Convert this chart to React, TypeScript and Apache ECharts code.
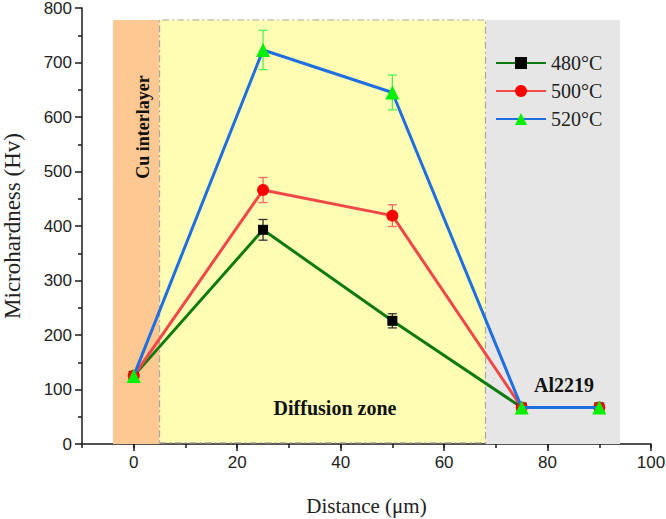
import React, { useEffect, useRef } from "react";
import * as echarts from "echarts";

const distances = [0, 25, 50, 75, 90];
const hv480 = [125, 393, 226, 67, 67];
const hv500 = [125, 466, 419, 67, 67];
const hv520 = [125, 723, 645, 67, 67];
const err480 = [0, 19, 13, 0, 0];
const err500 = [0, 23, 20, 0, 0];
const err520 = [0, 36, 32, 0, 0];
const xMajorTicks = [0, 20, 40, 60, 80, 100];

// background zones: [x start, x end, y top]
const cuZone = [-4, 5, 778];
const diffZone = [5, 68, 778];
const alZone = [68, 94, 778];

const serif = "'Liberation Serif', 'Times New Roman', serif";
const sans = "'Liberation Sans', Arial, sans-serif";

function pairs(xs: number[], ys: number[]) {
  return xs.map((x, i) => [x, ys[i]]);
}
function errData(xs: number[], ys: number[], es: number[]) {
  return xs.map((x, i) => [x, ys[i], es[i]]).filter((d) => d[2] > 0);
}

function errSeries(name: string, data: number[][], color: string, extra: any = {}) {
  return {
    type: "custom",
    name: name + "-err",
    z: 1,
    silent: true,
    data,
    renderItem: (params: any, api: any) => {
      const x = api.value(0);
      const y = api.value(1);
      const e = api.value(2);
      const top = api.coord([x, y + e]);
      const bot = api.coord([x, y - e]);
      const hw = 4.5;
      const st = { stroke: color, lineWidth: 1.3 };
      return {
        type: "group",
        children: [
          { type: "line", shape: { x1: top[0], y1: top[1], x2: bot[0], y2: bot[1] }, style: st },
          { type: "line", shape: { x1: top[0] - hw, y1: top[1], x2: top[0] + hw, y2: top[1] }, style: st },
          { type: "line", shape: { x1: bot[0] - hw, y1: bot[1], x2: bot[0] + hw, y2: bot[1] }, style: st },
        ],
      };
    },
    ...extra,
  };
}

export default function App() {
  const ref = useRef<HTMLDivElement>(null);
  useEffect(() => {
    if (!ref.current) return;
    const chart = echarts.init(ref.current, null, { renderer: "svg" });
    const axisLineStyle = { color: "#1a1a1a", width: 1.5 };
    const gridBox = { left: 82, right: 15, top: 8, bottom: 75, containLabel: false, outerBoundsMode: "none" };
    const zonesMarkArea = {
      silent: true,
      label: { show: false },
      data: [
        [
          { xAxis: cuZone[0], yAxis: 0, itemStyle: { color: "#FDC892" } },
          { xAxis: cuZone[1], yAxis: cuZone[2] },
        ],
        [
          { xAxis: alZone[0], yAxis: 0, itemStyle: { color: "#E6E6E6" } },
          { xAxis: alZone[1], yAxis: alZone[2] },
        ],
        [
          {
            xAxis: diffZone[0],
            yAxis: 2,
            itemStyle: {
              color: "#FFFDB4",
              borderColor: "#A8A8A0",
              borderWidth: 1.2,
              borderType: [7, 3, 2, 3],
            },
          },
          { xAxis: diffZone[1], yAxis: diffZone[2] },
        ],
      ],
    };
    chart.setOption({
      animation: false,
      backgroundColor: "#ffffff",
      grid: [gridBox, { ...gridBox }],
      legend: {
        orient: "vertical",
        left: 490,
        top: 48,
        itemWidth: 50,
        itemHeight: 15,
        itemGap: 8,
        data: ["480°C", "500°C", "520°C"],
        textStyle: { fontFamily: serif, fontSize: 20, color: "#222" },
      },
      xAxis: [
        {
          type: "value",
          gridIndex: 0,
          position: "bottom",
          min: -10,
          max: 100,
          interval: 10,
          name: "Distance (μm)",
          nameLocation: "middle",
          nameGap: 51,
          nameTextStyle: { fontFamily: serif, fontSize: 21, color: "#222" },
          axisLine: { show: true, onZero: false, lineStyle: axisLineStyle },
          axisTick: { show: true, inside: false, length: 4, lineStyle: axisLineStyle },
          axisLabel: {
            fontFamily: sans,
            fontSize: 17,
            color: "#222",
            margin: 10,
            formatter: (v: number) => (xMajorTicks.indexOf(v) >= 0 ? String(v) : ""),
          },
          splitLine: { show: false },
        },
        {
          type: "value",
          gridIndex: 1,
          position: "bottom",
          min: -10,
          max: 100,
          axisLine: { show: false, onZero: false },
          axisTick: { show: true, inside: false, length: 7, customValues: xMajorTicks, lineStyle: axisLineStyle },
          axisLabel: { show: false },
          splitLine: { show: false },
        },
      ],
      yAxis: [
        {
          type: "value",
          gridIndex: 0,
          position: "left",
          min: 0,
          max: 800,
          interval: 100,
          name: "Microhardness (Hv)",
          nameLocation: "middle",
          nameGap: 58,
          nameTextStyle: { fontFamily: serif, fontSize: 23, color: "#222" },
          axisLine: { show: true, onZero: false, lineStyle: axisLineStyle },
          axisTick: { show: true, inside: false, length: 7, lineStyle: axisLineStyle },
          minorTick: { show: true, splitNumber: 2, length: 4, lineStyle: axisLineStyle },
          axisLabel: { fontFamily: sans, fontSize: 17, color: "#222", margin: 10 },
          splitLine: { show: false },
        },
        {
          type: "value",
          gridIndex: 1,
          min: 0,
          max: 800,
          show: false,
          axisLine: { show: false, onZero: false },
        },
      ],
      series: [
        errSeries("480", errData(distances, hv480, err480), "#333333", { markArea: zonesMarkArea, z: 1 }),
        errSeries("500", errData(distances, hv500, err500), "#F06A6A"),
        errSeries("520", errData(distances, hv520, err520), "#55EE55"),
        {
          type: "line",
          name: "480°C",
          data: pairs(distances, hv480),
          z: 3,
          lineStyle: { color: "#0F7A0F", width: 3 },
          itemStyle: { color: "#000000" },
          symbol: "rect",
          symbolSize: 10,
        },
        {
          type: "line",
          name: "500°C",
          data: pairs(distances, hv500),
          z: 4,
          lineStyle: { color: "#F04848", width: 3 },
          itemStyle: { color: "#FF0000" },
          symbol: "circle",
          symbolSize: 12,
        },
        {
          type: "line",
          name: "520°C",
          data: pairs(distances, hv520),
          z: 5,
          lineStyle: { color: "#1F6FE0", width: 3 },
          itemStyle: { color: "#00F000" },
          symbol: "triangle",
          symbolSize: 14,
        },
      ],
      graphic: {
        elements: [
          {
            type: "text",
            z: 100,
            x: 143,
            y: 127,
            rotation: Math.PI / 2,
            style: {
              text: "Cu interlayer",
              font: "bold 18px 'Liberation Serif', serif",
              fill: "#111",
              textAlign: "center",
              textVerticalAlign: "middle",
            },
          },
          {
            type: "text",
            z: 100,
            x: 335,
            y: 408,
            style: {
              text: "Diffusion zone",
              font: "bold 20px 'Liberation Serif', serif",
              fill: "#111",
              textAlign: "center",
              textVerticalAlign: "middle",
            },
          },
          {
            type: "text",
            z: 100,
            x: 564,
            y: 385,
            style: {
              text: "Al2219",
              font: "bold 20px 'Liberation Serif', serif",
              fill: "#111",
              textAlign: "center",
              textVerticalAlign: "middle",
            },
          },
        ],
      },
    });
    return () => chart.dispose();
  }, []);
  return <div ref={ref} style={{ width: 666, height: 519, position: "absolute", left: 0, top: 0 }} />;
}
